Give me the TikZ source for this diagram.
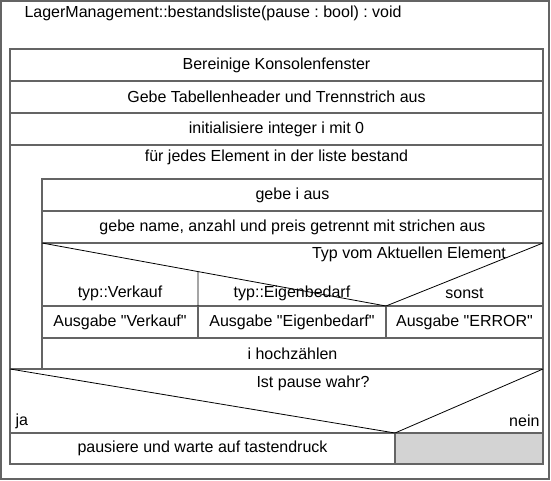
\documentclass[tikz,border=0pt]{standalone}
\usepackage{fontspec}
\setmainfont{Liberation Sans}[Ligatures=TeXOff]
\usetikzlibrary{calc}
\definecolor{rahmen}{RGB}{100,100,100}
\definecolor{leer}{RGB}{211,211,211}
\frenchspacing

\begin{document}
\begin{tikzpicture}[x=1pt,y=-1pt,font=\fontsize{16}{19}\selectfont,
  blk/.style={draw=rahmen,line width=1.3pt,inner sep=0,outer sep=0,anchor=north west,minimum height=32pt},
  diag/.style={draw=black,line width=0.8pt}]
\useasboundingbox (0,0) rectangle (551,480);
\node (frame) [blk,minimum width=548pt,minimum height=478pt] at (1,1) {};
\node (title) [anchor=west] at (21,13) {LagerManagement::bestandsliste(pause : bool) : void};
% Sequenz
\node (s1) [blk,minimum width=533pt] at (10,49) {Bereinige Konsolenfenster};
\node (s2) [blk,minimum width=533pt] at (10,81) {Gebe Tabellenheader und Trennstrich aus};
\node (s3) [blk,minimum width=533pt] at (10,113) {initialisiere integer i mit 0};
% Schleife
\node (loop) [blk,minimum width=533pt,minimum height=224pt] at (10,145) {};
\node (looptxt) at (276.5,157) {für jedes Element in der liste bestand};
\node (b1) [blk,minimum width=501pt] at (42,179) {gebe i aus};
\node (b2) [blk,minimum width=501pt] at (42,211) {gebe name, anzahl und preis getrennt mit strichen aus};
% Fallunterscheidung
\node (case) [blk,minimum width=501pt,minimum height=63pt] at (42,243) {};
\node (c1) [blk,minimum width=156pt] at (42,306) {Ausgabe "Verkauf"};
\node (c2) [blk,minimum width=188pt] at (198,306) {Ausgabe "Eigenbedarf"};
\node (c3) [blk,minimum width=157pt] at (386,306) {Ausgabe "ERROR"};
\draw[diag] (case.north west) -- (c3.north west) -- (case.north east);
\draw[diag] (c2.north west) -- ($(case.north west)!{156/344}!(c3.north west)$);
\node (casetxt) at (409,254) {Typ vom Aktuellen Element};
\node (k1) at (120,293) {typ::Verkauf};
\node (k2) at (292,293) {typ::Eigenbedarf};
\node (k3) at (464.5,293) {sonst};
\node (inc) [blk,minimum width=501pt,minimum height=31pt] at (42,338) {i hochzählen};
% Verzweigung
\node (cond) [blk,minimum width=533pt,minimum height=64pt] at (10,369) {};
\node (yes) [blk,minimum width=385pt,minimum height=31pt] at (10,433) {pausiere und warte auf tastendruck};
\node (no) [blk,fill=leer,minimum width=148pt,minimum height=31pt] at (395,433) {};
\draw[diag] (cond.north west) -- (no.north west) -- (cond.north east);
\node (condtxt) at (313,383) {Ist pause wahr?};
\node (ja) [anchor=west] at (12,421) {ja};
\node (nein) [anchor=east] at (543,421) {nein};
\end{tikzpicture}
\end{document}
